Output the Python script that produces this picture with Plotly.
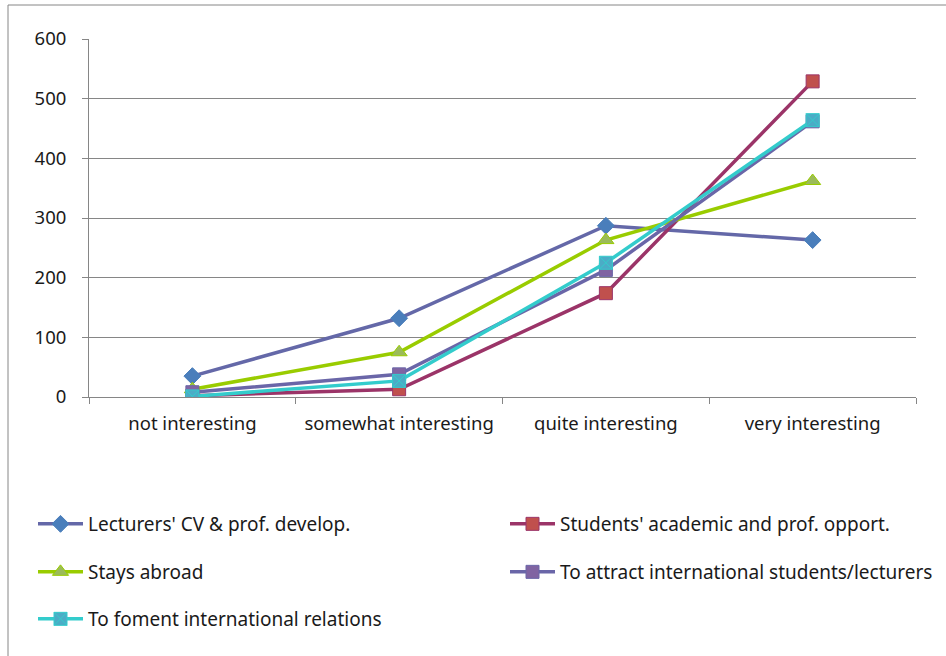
import plotly.graph_objects as go

categories = ["not interesting", "somewhat interesting", "quite interesting", "very interesting"]
lecturers = [35, 132, 287, 263]
students = [2, 13, 174, 529]
stays_abroad = [13, 75, 263, 362]
attract = [8, 38, 213, 462]
foment = [1, 27, 225, 464]

series = [
    ("Lecturers' CV & prof. develop.", lecturers, "#6468A8", "diamond", "#4A7EBB", "#4A7EBB", 13),
    ("Students' academic and prof. opport.", students, "#9B3468", "square", "#C0504D", "#9B3468", 13),
    ("Stays abroad", stays_abroad, "#99CC00", "triangle-up", "#9BBB59", "#99CC00", 14),
    ("To attract international students/lecturers", attract, "#6A66A8", "square", "#8064A2", "#6A66A8", 13),
    ("To foment international relations", foment, "#33CCCC", "square-x", "#4BACC6", "#33CCCC", 13),
]

# legend placement (paper coords), one legend per entry
L, W, B, H = 89, 827, 397, 358
def px_x(p):
    return (p - L) / W
def px_y(p):
    return (B - p) / H

leg_pos = [(33, 524), (505, 524), (33, 572), (505, 572), (33, 619)]
leg_names = ["legend", "legend2", "legend3", "legend4", "legend5"]

fig = go.Figure()
for (name, vals, lc, sym, mfill, mline, msize), leg in zip(series, leg_names):
    fig.add_trace(go.Scatter(
        x=categories, y=vals, name=name, mode="lines+markers",
        line=dict(color=lc, width=3.5),
        marker=dict(symbol=sym, size=msize, color=mfill, line=dict(color=mline, width=1)),
        legend=leg,
    ))

font = dict(family="Noto Sans, Liberation Sans, sans-serif", size=18.5, color="#1a1a1a")
legfont = dict(font, size=19)
legends = {}
for leg, (lx, ly) in zip(leg_names, leg_pos):
    legends[leg] = dict(x=px_x(lx), y=px_y(ly), xanchor="left", yanchor="middle",
                        itemwidth=45, font=legfont, bgcolor="rgba(0,0,0,0)")

fig.update_layout(
    width=946, height=656,
    margin=dict(l=L, r=946 - L - W, t=B - H, b=656 - B, autoexpand=False),
    paper_bgcolor="white", plot_bgcolor="white",
    font=font,
    showlegend=True,
    **legends,
    xaxis=dict(range=[-0.5, 3.5], showline=True, linecolor="#868686", linewidth=1,
               ticks="outside", ticklen=6, tickcolor="#868686", tickson="boundaries",
               showgrid=False, zeroline=False, tickfont=font, ticklabelstandoff=10),
    yaxis=dict(range=[0, 600], dtick=100, showline=True, linecolor="#868686", linewidth=1,
               ticks="outside", ticklen=6, tickcolor="#868686",
               showgrid=True, gridcolor="#868686", gridwidth=1, zeroline=False,
               tickfont=font, ticklabelstandoff=12),
    shapes=[dict(type="rect", xref="paper", yref="paper",
                 x0=px_x(8), x1=px_x(960),
                 y0=px_y(670), y1=px_y(5),
                 line=dict(color="#868686", width=1), fillcolor="rgba(0,0,0,0)", layer="below")],
)

fig.write_html("out.html", config={"displayModeBar": False},
               post_script="document.body.style.margin='0';")
